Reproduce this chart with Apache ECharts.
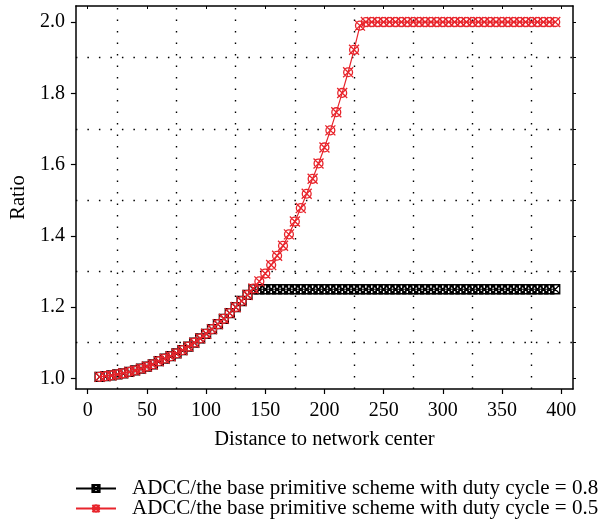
<!DOCTYPE html>
<html>
<head>
<meta charset="utf-8">
<script src="https://cdn.jsdelivr.net/npm/echarts@6/dist/echarts.min.js"></script>
<style>
  html, body { margin: 0; padding: 0; background: #fff; }
  #chart { width: 598px; height: 520px; }
</style>
</head>
<body>
<div id="chart"></div>
<script>
// distance to network center
var distance = [10, 15, 20, 25, 30, 35, 40, 45, 50, 55, 60, 65, 70, 75, 80, 85, 90, 95, 100,
    105, 110, 115, 120, 125, 130, 135, 140, 145, 150, 155, 160, 165, 170, 175, 180, 185, 190,
    195, 200, 205, 210, 215, 220, 225, 230, 235, 240, 245, 250, 255, 260, 265, 270, 275, 280,
    285, 290, 295, 300, 305, 310, 315, 320, 325, 330, 335, 340, 345, 350, 355, 360, 365, 370,
    375, 380, 385, 390, 395];

// duty cycle = 0.8
var ratio08 = [1.004, 1.006, 1.008, 1.011, 1.014, 1.018, 1.022, 1.027, 1.033, 1.039, 1.048,
    1.055, 1.062, 1.070, 1.079, 1.089, 1.100, 1.112, 1.125, 1.138, 1.152, 1.167, 1.183, 1.200,
    1.217, 1.234, 1.250, 1.25, 1.25, 1.25, 1.25, 1.25, 1.25, 1.25, 1.25, 1.25, 1.25, 1.25, 1.25,
    1.25, 1.25, 1.25, 1.25, 1.25, 1.25, 1.25, 1.25, 1.25, 1.25, 1.25, 1.25, 1.25, 1.25, 1.25,
    1.25, 1.25, 1.25, 1.25, 1.25, 1.25, 1.25, 1.25, 1.25, 1.25, 1.25, 1.25, 1.25, 1.25, 1.25,
    1.25, 1.25, 1.25, 1.25, 1.25, 1.25, 1.25, 1.25, 1.25];

// duty cycle = 0.5
var ratio05 = [1.004, 1.006, 1.008, 1.011, 1.014, 1.018, 1.022, 1.027, 1.033, 1.039, 1.048,
    1.055, 1.062, 1.070, 1.079, 1.089, 1.100, 1.112, 1.125, 1.138, 1.152, 1.167, 1.183, 1.200,
    1.217, 1.234, 1.252, 1.272, 1.294, 1.318, 1.344, 1.372, 1.404, 1.440, 1.478, 1.518, 1.560,
    1.603, 1.648, 1.696, 1.747, 1.801, 1.859, 1.922, 1.990, 2.0, 2.0, 2.0, 2.0, 2.0, 2.0, 2.0,
    2.0, 2.0, 2.0, 2.0, 2.0, 2.0, 2.0, 2.0, 2.0, 2.0, 2.0, 2.0, 2.0, 2.0, 2.0, 2.0, 2.0, 2.0,
    2.0, 2.0, 2.0, 2.0, 2.0, 2.0, 2.0, 2.0];

var seriesNames = ['ADCC/the base primitive scheme with duty cycle = 0.8',
    'ADCC/the base primitive scheme with duty cycle = 0.5'];

var xTicks = [0, 50, 100, 150, 200, 250, 300, 350, 400];
var yTicks = [1.0, 1.2, 1.4, 1.6, 1.8, 2.0];
var yMinorTicks = [1.0, 1.1, 1.2, 1.3, 1.4, 1.5, 1.6, 1.7, 1.8, 1.9, 2.0];
var gridX = [25, 75, 125, 175, 225, 275, 325, 375];
var gridY = [1.1, 1.3, 1.5, 1.7, 1.9];

var font = '"Liberation Serif", "DejaVu Serif", serif';

function pairs(ys) {
    var out = [];
    for (var i = 0; i < distance.length; i++) {
        out.push([distance[i], ys[i]]);
    }
    return out;
}

var gridLines = [];
gridX.forEach(function (v) { gridLines.push({xAxis: v}); });
gridY.forEach(function (v) { gridLines.push({yAxis: v}); });

var squareX = 'path://M0,0L10,0L10,10L0,10Z M0,0L10,10 M10,0L0,10';
var circleX = 'path://M9,5A4,4,0,1,1,1,5A4,4,0,1,1,9,5Z M0.5,0.5L9.5,9.5 M9.5,0.5L0.5,9.5';

function legendRow(name, top) {
    return {
        orient: 'vertical',
        left: 70,
        top: top,
        itemWidth: 40,
        itemHeight: 9,
        textStyle: {fontFamily: font, fontSize: 21, color: '#000', padding: [0, 0, 0, 11]},
        data: [name]
    };
}

var frameLine = {show: true, onZero: false, lineStyle: {color: '#000', width: 1.5}};

var chart = echarts.init(document.getElementById('chart'));

var option = {
    animation: false,
    backgroundColor: '#fff',
    textStyle: {fontFamily: font, color: '#000'},
    grid: {left: 75, right: 25, top: 6, bottom: 131, containLabel: false},
    xAxis: [{
        type: 'value',
        min: -10,
        max: 410,
        position: 'bottom',
        name: 'Distance to network center',
        nameLocation: 'middle',
        nameGap: 40,
        nameTextStyle: {fontFamily: font, fontSize: 20.5, color: '#000'},
        axisLine: frameLine,
        axisTick: {show: true, inside: false, length: 5, customValues: xTicks,
            lineStyle: {color: '#000', width: 1.2}},
        axisLabel: {customValues: xTicks, margin: 12, fontFamily: font, fontSize: 20, color: '#000'},
        splitLine: {show: false}
    }, {
        type: 'value',
        min: -10,
        max: 410,
        position: 'top',
        axisLine: frameLine,
        axisTick: {show: true, inside: true, length: 3, customValues: xTicks,
            lineStyle: {color: '#000'}},
        axisLabel: {show: false},
        splitLine: {show: false}
    }],
    yAxis: [{
        type: 'value',
        min: 0.97,
        max: 2.045,
        position: 'left',
        name: 'Ratio',
        nameLocation: 'middle',
        nameGap: 46,
        nameTextStyle: {fontFamily: font, fontSize: 20.5, color: '#000'},
        axisLine: frameLine,
        axisTick: {show: true, inside: false, length: 5, customValues: yTicks,
            lineStyle: {color: '#000', width: 1.2}},
        axisLabel: {customValues: yTicks, margin: 11, fontFamily: font, fontSize: 20, color: '#000',
            formatter: function (v) { return v.toFixed(1); }},
        splitLine: {show: false}
    }, {
        type: 'value',
        min: 0.97,
        max: 2.045,
        position: 'right',
        axisLine: frameLine,
        axisTick: {show: true, inside: false, length: 3, customValues: yMinorTicks,
            lineStyle: {color: '#000'}},
        axisLabel: {show: false},
        splitLine: {show: false}
    }],
    legend: [legendRow(seriesNames[0], 473), legendRow(seriesNames[1], 493)],
    series: [{
        name: seriesNames[0],
        type: 'line',
        z: 3,
        data: pairs(ratio08),
        symbol: squareX,
        symbolSize: 9,
        showAllSymbol: true,
        lineStyle: {color: '#000', width: 1},
        itemStyle: {color: 'rgba(0,0,0,0)', borderColor: '#000', borderWidth: 1.3},
        markLine: {
            silent: true,
            z: 1,
            symbol: 'none',
            label: {show: false},
            lineStyle: {color: '#000', width: 1.4, type: [1.5, 10]},
            data: gridLines
        }
    }, {
        name: seriesNames[1],
        type: 'line',
        z: 4,
        data: pairs(ratio05),
        symbol: circleX,
        symbolSize: 10,
        showAllSymbol: true,
        lineStyle: {color: '#e8252c', width: 1.2},
        itemStyle: {color: 'rgba(0,0,0,0)', borderColor: '#e8252c', borderWidth: 1.3}
    }]
};

chart.setOption(option);
</script>
</body>
</html>
